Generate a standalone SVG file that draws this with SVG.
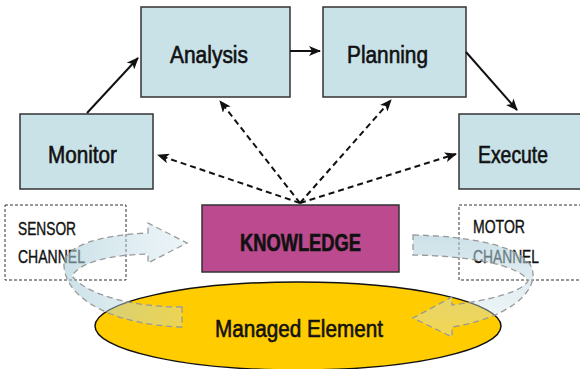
<svg xmlns="http://www.w3.org/2000/svg" width="580" height="369" viewBox="0 0 580 369">
<style>
.box{fill:#c9e2e8;stroke:#333;stroke-width:1.5}
.lbl{font-family:"Liberation Sans Narrow","Liberation Sans",Arial,sans-serif;fill:#111;stroke:#111;stroke-width:0.6}
.big{font-size:23px}
.small{font-size:18px;stroke-width:0.4}
.solid{stroke:#111;stroke-width:2;fill:none;marker-end:url(#ah)}
.dash{stroke:#111;stroke-width:2;fill:none;stroke-dasharray:6 4;marker-end:url(#ah)}
.chan{fill:none;stroke:#333;stroke-width:1;stroke-dasharray:3 2}
.ring{stroke:#999;stroke-width:1.3;stroke-dasharray:6 4}
</style>
<defs>
<marker id="ah" viewBox="0 0 12 10" refX="11" refY="5" markerWidth="12" markerHeight="10" markerUnits="userSpaceOnUse" orient="auto">
<path d="M0,0 L12,5 L0,10 L3,5 Z" fill="#111"/>
</marker>
<linearGradient id="gs" x1="0" y1="0" x2="1" y2="0">
<stop offset="0" stop-color="#a9cdd8" stop-opacity="0.6"/>
<stop offset="1" stop-color="#c9e1ea" stop-opacity="0.35"/>
</linearGradient>
<linearGradient id="gm" x1="0" y1="0" x2="0" y2="1">
<stop offset="0" stop-color="#a9cdd8" stop-opacity="0.6"/>
<stop offset="1" stop-color="#dbeaf0" stop-opacity="0.35"/>
</linearGradient>
</defs>
<rect width="580" height="369" fill="#fff"/>

<g id="sensor-channel">
<rect class="chan" x="5" y="205" width="121" height="75"/>
<text class="lbl small" x="18" y="235" textLength="58" lengthAdjust="spacingAndGlyphs">SENSOR</text>
<text class="lbl small" x="18" y="263" textLength="67" lengthAdjust="spacingAndGlyphs">CHANNEL</text>
</g>
<g id="motor-channel">
<rect class="chan" x="459" y="205" width="130" height="75"/>
<text class="lbl small" x="473" y="233" textLength="52" lengthAdjust="spacingAndGlyphs">MOTOR</text>
<text class="lbl small" x="473" y="263" textLength="66" lengthAdjust="spacingAndGlyphs">CHANNEL</text>
</g>

<g id="monitor">
<rect class="box" x="20" y="114" width="133" height="75"/>
<text class="lbl big" x="48" y="163" textLength="69" lengthAdjust="spacingAndGlyphs">Monitor</text>
</g>
<g id="analysis">
<rect class="box" x="141" y="7" width="149" height="90"/>
<text class="lbl big" x="170" y="63" textLength="78" lengthAdjust="spacingAndGlyphs">Analysis</text>
</g>
<g id="planning">
<rect class="box" x="323" y="7" width="143" height="90"/>
<text class="lbl big" x="347" y="63" textLength="81" lengthAdjust="spacingAndGlyphs">Planning</text>
</g>
<g id="execute">
<rect class="box" x="459" y="114" width="130" height="75"/>
<text class="lbl big" x="478" y="163" textLength="70" lengthAdjust="spacingAndGlyphs">Execute</text>
</g>
<g id="knowledge">
<rect x="202" y="205" width="197" height="67" fill="#bb4a8e" stroke="#333" stroke-width="1.5"/>
<text class="lbl" x="240" y="251" font-size="24" font-weight="bold" stroke-width="0.3" textLength="121" lengthAdjust="spacingAndGlyphs">KNOWLEDGE</text>
</g>
<g id="managed-element">
<ellipse cx="298" cy="326" rx="203" ry="44" fill="#ffcc00" stroke="#111" stroke-width="1.5"/>
<text class="lbl big" x="215" y="337" textLength="168" lengthAdjust="spacingAndGlyphs">Managed Element</text>
</g>

<g id="connectors">
<path class="solid" d="M87,113 L138,58"/>
<path class="solid" d="M290,51 L320,51"/>
<path class="solid" d="M466,52 L517,110"/>
<path class="dash" d="M300,203 L158,155"/>
<path class="dash" d="M300,203 L220,101"/>
<path class="dash" d="M300,203 L391,100"/>
<path class="dash" d="M300,203 L456,154"/>
</g>

<g id="sensor-arrow">
<path class="ring" fill="url(#gs)" d="M182,307 C135,307 88,296 72,276 C80,262 110,255 148,254 L148,263 L187,243 L148,223 L148,233 C100,235 62,246 64,266 C66,300 115,325 182,327 Z"/>
</g>
<g id="motor-arrow">
<path class="ring" fill="url(#gm)" d="M413,235 C470,236 522,246 532,268 C540,295 500,320 452,327 L452,337 L413,318 L452,297 L452,305 C490,300 522,292 528,281 C520,265 470,256 413,255 Z"/>
</g>
</svg>
